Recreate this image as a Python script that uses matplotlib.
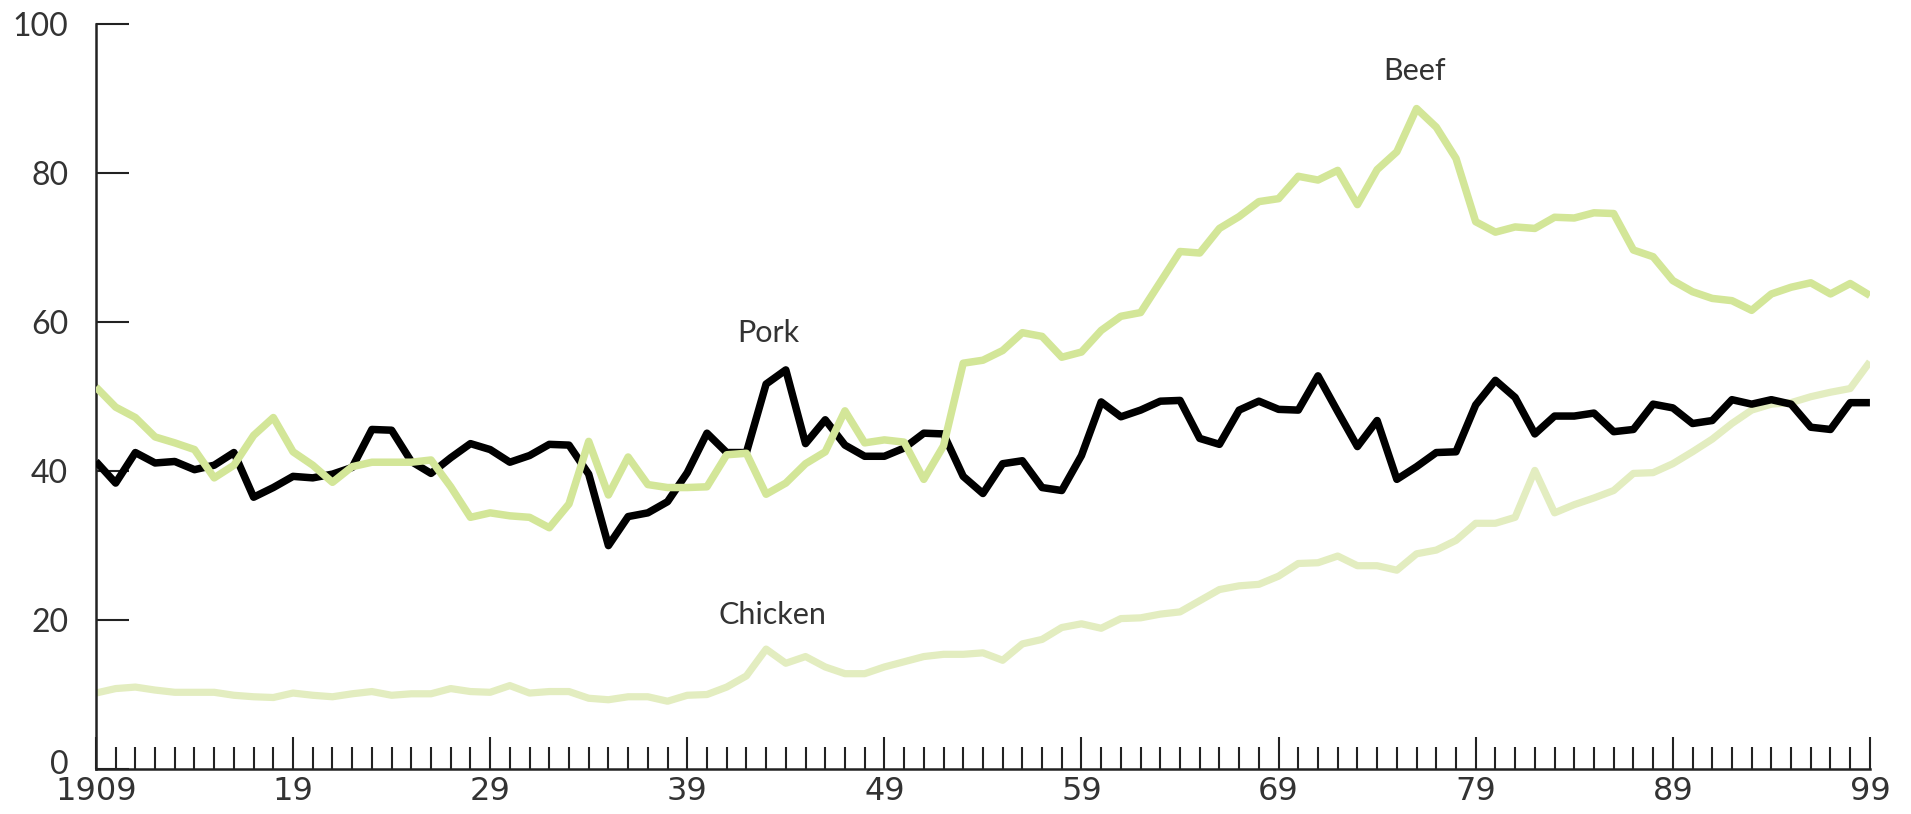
import matplotlib
matplotlib.use("Agg")
import matplotlib.pyplot as plt
import matplotlib.transforms as mtransforms
import numpy as np
from matplotlib.ticker import MultipleLocator, FixedLocator

# Per capita consumption, 1909-1999
years = np.arange(1909, 2000)

beef = [51.3, 48.6, 47.2, 44.6, 43.8, 42.9, 39.1, 40.8, 44.8, 47.2,
        42.6, 40.8, 38.5, 40.6, 41.2, 41.2, 41.2, 41.5, 37.9, 33.8,
        34.4, 34.0, 33.8, 32.4, 35.6, 44.0, 36.8, 41.9, 38.2, 37.8,
        37.8, 37.9, 42.2, 42.4, 36.9, 38.4, 41.0, 42.6, 48.1, 43.8,
        44.2, 43.9, 38.9, 43.4, 54.5, 54.9, 56.2, 58.6, 58.1, 55.3,
        56.0, 58.9, 60.8, 61.3, 65.4, 69.5, 69.3, 72.6, 74.2, 76.2,
        76.6, 79.6, 79.1, 80.4, 75.8, 80.5, 82.9, 88.7, 86.2, 82.0,
        73.5, 72.1, 72.8, 72.6, 74.1, 74.0, 74.7, 74.6, 69.7, 68.8,
        65.6, 64.1, 63.2, 62.9, 61.6, 63.8, 64.7, 65.3, 63.8, 65.2,
        63.6]

pork = [41.3, 38.4, 42.5, 41.1, 41.3, 40.2, 40.8, 42.5, 36.5, 37.8,
        39.3, 39.1, 39.6, 40.5, 45.6, 45.5, 41.3, 39.7, 41.8, 43.7,
        42.9, 41.2, 42.1, 43.6, 43.5, 39.6, 30.0, 33.9, 34.4, 35.9,
        39.8, 45.1, 42.5, 42.5, 51.7, 53.6, 43.7, 46.9, 43.5, 42.0,
        42.0, 43.1, 45.1, 45.0, 39.3, 37.0, 41.0, 41.4, 37.8, 37.4,
        42.1, 49.3, 47.3, 48.2, 49.4, 49.5, 44.4, 43.6, 48.2, 49.4,
        48.3, 48.2, 52.8, 48.0, 43.3, 46.8, 38.9, 40.6, 42.5, 42.6,
        48.9, 52.2, 49.9, 45.0, 47.4, 47.4, 47.8, 45.3, 45.6, 49.0,
        48.5, 46.4, 46.8, 49.6, 49.0, 49.6, 49.0, 45.9, 45.6, 49.2,
        49.2]

chicken = [10.2, 10.8, 11.0, 10.6, 10.3, 10.3, 10.3, 9.9, 9.7, 9.6,
           10.2, 9.9, 9.7, 10.1, 10.4, 9.9, 10.1, 10.1, 10.8, 10.4,
           10.3, 11.2, 10.2, 10.4, 10.4, 9.5, 9.3, 9.7, 9.7, 9.1,
           9.9, 10.0, 11.0, 12.5, 16.1, 14.2, 15.1, 13.7, 12.8, 12.8,
           13.7, 14.4, 15.1, 15.4, 15.4, 15.6, 14.6, 16.8, 17.4, 19.0,
           19.5, 18.9, 20.2, 20.3, 20.8, 21.1, 22.6, 24.1, 24.6, 24.8,
           25.9, 27.6, 27.7, 28.6, 27.3, 27.3, 26.7, 28.9, 29.4, 30.7,
           33.0, 33.0, 33.8, 40.1, 34.4, 35.5, 36.4, 37.4, 39.7, 39.8,
           41.0, 42.6, 44.3, 46.4, 48.2, 49.0, 49.2, 50.0, 50.6, 51.1,
           54.7]

x_major = [1909, 1919, 1929, 1939, 1949, 1959, 1969, 1979, 1989, 1999]
x_labels = ["1909", "19", "29", "39", "49", "59", "69", "79", "89", "99"]
y_ticks = [0, 20, 40, 60, 80, 100]

beef_color = "#d3e698"
chicken_color = "#e3edc0"
label_font = ["Lato", "DejaVu Sans"]
xtick_font = ["Liberation Sans Narrow", "DejaVu Sans"]

fig = plt.figure(figsize=(19.11, 8.14), dpi=100)
ax = fig.add_axes([0.0502, 0.0553, 0.9283, 0.9147])

ax.plot(years, chicken, color=chicken_color, lw=5.2, zorder=2, solid_capstyle="butt")
ax.plot(years, pork, color="black", lw=5.4, zorder=3, solid_capstyle="butt")
ax.plot(years, beef, color=beef_color, lw=5.4, zorder=4, solid_capstyle="butt")

ax.set_xlim(1909, 1999)
ax.set_ylim(0, 100)

for side in ("top", "right"):
    ax.spines[side].set_visible(False)
for side in ("left", "bottom"):
    ax.spines[side].set_linewidth(1.8)
    ax.spines[side].set_color("#222222")

# y ticks point inward
ax.set_yticks(y_ticks)
ax.set_yticklabels([str(v) for v in y_ticks], fontfamily=label_font, fontsize=23, color="#333333")
ax.tick_params(axis="y", direction="in", length=24, width=1.5, pad=20, colors="#222222", labelcolor="#333333")

# lift the "0" a little so it sits above the 1909 label
zero_label = ax.get_yticklabels()[0]
zero_label.set_transform(zero_label.get_transform() +
                         mtransforms.ScaledTranslation(0, 5 / 72, fig.dpi_scale_trans))

# x ticks: a tall one every decade, a short one every year
ax.xaxis.set_major_locator(FixedLocator(x_major))
ax.xaxis.set_minor_locator(MultipleLocator(1))
ax.set_xticklabels(x_labels, fontfamily=xtick_font, fontsize=23, color="#333333")
ax.tick_params(axis="x", which="major", direction="in", length=23, width=1.5, pad=5, colors="#222222", labelcolor="#333333")
ax.tick_params(axis="x", which="minor", direction="in", length=16, width=1.5, colors="#222222")

ax.text(1975.9, 93.8, "Beef", fontfamily=label_font, fontsize=22, color="#333333", ha="center", va="center")
ax.text(1943.1, 58.5, "Pork", fontfamily=label_font, fontsize=22, color="#333333", ha="center", va="center")
ax.text(1943.3, 20.7, "Chicken", fontfamily=label_font, fontsize=22, color="#333333", ha="center", va="center")

fig.savefig("out.png", dpi=100)
